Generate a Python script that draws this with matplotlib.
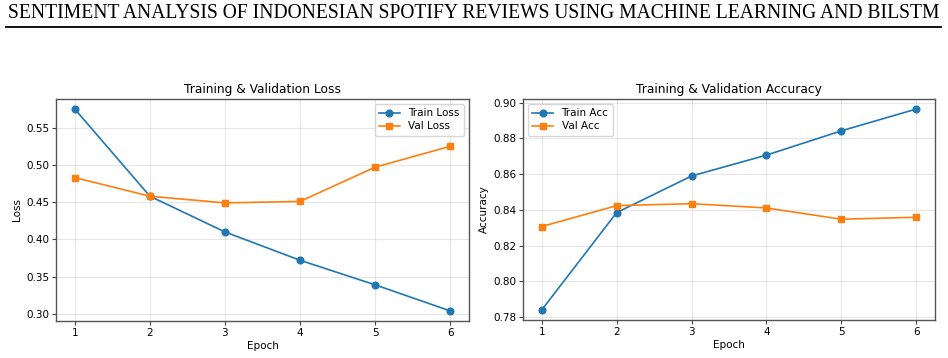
import matplotlib.pyplot as plt
from matplotlib.lines import Line2D

# data
epochs = [1, 2, 3, 4, 5, 6]
train_loss = [0.575, 0.458, 0.410, 0.372, 0.339, 0.304]
val_loss = [0.483, 0.458, 0.449, 0.451, 0.497, 0.525]
train_acc = [0.784, 0.8385, 0.859, 0.8707, 0.8843, 0.8965]
val_acc = [0.8307, 0.8424, 0.8435, 0.8411, 0.8348, 0.8359]

header = "SENTIMENT ANALYSIS OF INDONESIAN SPOTIFY REVIEWS USING MACHINE LEARNING AND BILSTM"

fig = plt.figure(figsize=(9.48, 3.58), dpi=100)

# header like a paper page, fitted to the page width
htxt = fig.text(0.5, 0.962, header, ha="center", va="center",
                fontsize=15.5, family="Liberation Serif")
fig.canvas.draw()
w = htxt.get_window_extent().width
htxt.set_fontsize(15.5 * 930 / w)
fig.add_artist(Line2D([6 / 948, 941 / 948], [1 - 27 / 358] * 2,
                      transform=fig.transFigure, color="black", lw=1.3))

ax1 = fig.add_axes([0.0591, 0.1034, 0.4356, 0.6201])
ax2 = fig.add_axes([0.5517, 0.1062, 0.4346, 0.6173])

def style(ax, title, ylabel):
    ax.set_title(title, fontsize=8.8, pad=4)
    ax.set_xlabel("Epoch", fontsize=7.5, labelpad=2)
    ax.set_ylabel(ylabel, fontsize=7.5, labelpad=3)
    ax.tick_params(labelsize=7.5, length=3, pad=2, color="#444444")
    ax.grid(True, alpha=0.3)
    ax.set_xticks(epochs)
    for sp in ax.spines.values():
        sp.set_color("#555555")
        sp.set_linewidth(1.0)
    ax.legend(fontsize=7.5, handlelength=2.0, borderpad=0.4, labelspacing=0.3)

ax1.plot(epochs, train_loss, marker="o", ms=4.8, lw=1.2, label="Train Loss")
ax1.plot(epochs, val_loss, marker="s", ms=4.8, lw=1.2, label="Val Loss")
style(ax1, "Training & Validation Loss", "Loss")

ax2.plot(epochs, train_acc, marker="o", ms=4.8, lw=1.2, label="Train Acc")
ax2.plot(epochs, val_acc, marker="s", ms=4.8, lw=1.2, label="Val Acc")
style(ax2, "Training & Validation Accuracy", "Accuracy")

fig.savefig("out.png", dpi=100)
